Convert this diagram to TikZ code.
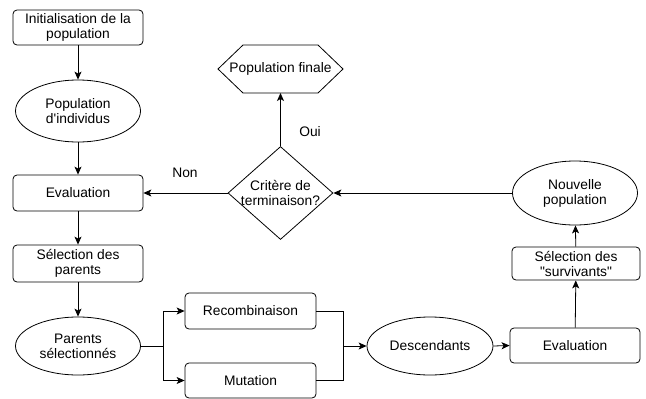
\documentclass[tikz,border=0pt]{standalone}
\usepackage{fontspec}
\setmainfont{Liberation Sans}
\usetikzlibrary{shapes.geometric, arrows.meta, calc}

\begin{document}
\begin{tikzpicture}[x=1pt, y=-1pt,
        font=\fontsize{13.8}{15}\selectfont,
        every node/.style={align=center, inner sep=1pt},
        box/.style={draw, rounded corners=4pt, minimum width=130pt},
        blob/.style={draw, ellipse, minimum width=125pt},
        link/.style={-{Stealth[length=8pt, width=7pt, inset=2pt]}}]

        \useasboundingbox (0, 0) rectangle (646, 399);

        \begin{scope}[line width=0.8pt]

            % Left column
            \node[box, minimum height=35pt] (init) at (78, 27.5)
                {Initialisation de la\\population};
            \node[blob, minimum height=62pt] (popind) at (78, 111)
                {Population\\d\textquotesingle individus};
            \node[box, minimum height=36pt] (eval1) at (78, 193) {Evaluation};
            \node[box, minimum height=37pt] (selpar) at (78, 263.5)
                {Sélection des\\parents};
            \node[blob, minimum height=58pt] (parsel) at (78, 346)
                {Parents\\sélectionnés};

            % Variation operators
            \node[box, minimum width=131pt, minimum height=36pt] (recomb)
                at (250.5, 311) {Recombinaison};
            \node[box, minimum width=131pt, minimum height=35pt] (mut)
                at (250.5, 380.5) {Mutation};
            \coordinate (split) at (163, 346);
            \coordinate (join) at (343, 346);

            % Right column
            \node[blob, minimum width=126pt, minimum height=58pt] (desc)
                at (430, 346) {Descendants};
            \node[box, minimum height=35pt] (eval2) at (575, 345.5) {Evaluation};
            \node[box, minimum width=128pt, minimum height=33pt] (selsurv)
                at (576, 263.5) {Sélection des\\\textquotedbl survivants\textquotedbl};
            \node[blob, minimum width=125pt, minimum height=64pt] (newpop)
                at (575, 193) {Nouvelle\\population};

            % Termination test
            \node[draw, diamond, inner sep=-4pt, shape aspect=1.13,
                minimum width=105pt, minimum height=93pt] (crit)
                at (280.5, 193) {Critère de\\terminaison?};

            % Hexagon drawn round its label
            \node (final) at (280.5, 69) {Population finale};
            \draw ($(final.center) + (-62.5, 0)$) -- ++(25, -24) -- ++(75, 0)
                -- ++(25, 24) -- ++(-25, 24) -- ++(-75, 0) -- cycle;
            \coordinate (finalbot) at ($(final.center) + (0, 24)$);

            \node (oui) at (310, 132) {Oui};
            \node (non) at (185, 173) {Non};

            % Connectors
            \draw[link] (init) -- (popind);
            \draw[link] (popind) -- (eval1);
            \draw[link] (eval1) -- (selpar);
            \draw[link] (selpar) -- (parsel);

            \draw (parsel.east) -- (split);
            \draw[link] (split) |- (recomb.west);
            \draw[link] (split) |- (mut.west);
            \draw (recomb.east) -| (join);
            \draw (mut.east) -| (join);
            \draw[link] (join) -- (desc.west);

            \draw[link] (desc.east) -- (eval2.west);
            \draw[link] (eval2) -- (selsurv);
            \draw[link] (selsurv) -- (newpop);
            \draw[link] (newpop.west) -- (crit.east);
            \draw[link] (crit.west) -- (eval1.east);
            \draw[link] (crit.north) -- (finalbot);
        \end{scope}

\end{tikzpicture}
\end{document}
